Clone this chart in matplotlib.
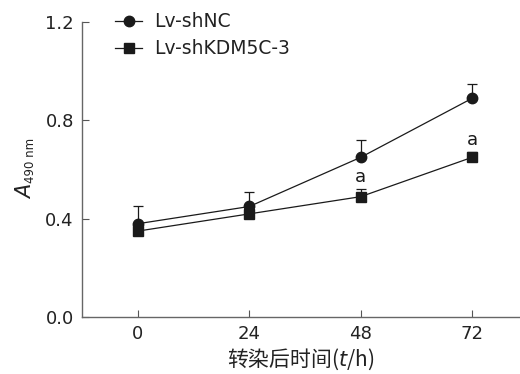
import matplotlib
matplotlib.use("Agg")
import matplotlib.pyplot as plt
from matplotlib.lines import Line2D

hours = [0, 24, 48, 72]
nc_mean = [0.38, 0.45, 0.65, 0.89]
nc_err = [0.07, 0.06, 0.07, 0.06]
kd_mean = [0.35, 0.42, 0.49, 0.65]
kd_err = [0.02, 0.02, 0.03, 0.02]
sig_labels = ["", "", "a", "a"]
yticks = [0.0, 0.4, 0.8, 1.2]

plt.rcParams['font.family'] = ['DejaVu Sans', 'Noto Sans CJK SC']
fig = plt.figure(figsize=(5.2, 3.74), dpi=100)
ax = fig.add_axes([0.158, 0.152, 0.842, 0.789])

c = '#1a1a1a'
ax.errorbar(hours, nc_mean, yerr=[[0]*4, nc_err], fmt='-o', color=c, lw=0.9,
            ms=7.5, elinewidth=0.9, capsize=3.5, capthick=0.9, zorder=3)
ax.errorbar(hours, kd_mean, yerr=[[0]*4, kd_err], fmt='-s', color=c, lw=0.9,
            ms=7.5, elinewidth=0.9, capsize=3.5, capthick=0.9, zorder=3)
for h, m, e, s in zip(hours, kd_mean, kd_err, sig_labels):
    if s:
        ax.text(h, m + e + 0.015, s, ha='center', va='bottom', fontsize=13, color=c)

ax.set_xlim(-12, 82.3)
ax.set_ylim(0, 1.2)
ax.set_xticks(hours)
ax.set_yticks(yticks)
ax.set_yticklabels([f"{v:.1f}" for v in yticks])
ax.tick_params(direction='in', length=5, width=0.8, labelsize=13, colors='#555555',
               labelcolor='#222222', pad=6)
for sp in ['top', 'right']:
    ax.spines[sp].set_visible(False)
for sp in ['left', 'bottom']:
    ax.spines[sp].set_color('#666666')
    ax.spines[sp].set_linewidth(1.0)

# y label: italic A with small subscript
fig.text(26 / 520, 1 - 192 / 374, 'A', rotation=90, fontsize=15, style='italic',
         color='#222222', ha='center', va='center')
fig.text(30 / 520, 1 - 160 / 374, '490 nm', rotation=90, fontsize=8.5,
         color='#222222', ha='center', va='center')

ax.set_xlabel('转染后时间($\\mathit{t}$/h)', fontsize=15,
              family=['Noto Sans CJK SC', 'DejaVu Sans'], color='#222222', labelpad=2)

handles = [Line2D([], [], color=c, lw=0.9, marker='o', ms=7.5),
           Line2D([], [], color=c, lw=0.9, marker='s', ms=7.5)]
leg = ax.legend(handles, ['Lv-shNC', 'Lv-shKDM5C-3'], loc='upper left',
                bbox_to_anchor=(0.058, 1.058), frameon=False,
                fontsize=13.5, handlelength=1.45, handletextpad=0.65, labelspacing=0.42,
                borderaxespad=0)
for t in leg.get_texts():
    t.set_color('#222222')

fig.savefig('out.png', dpi=100)
